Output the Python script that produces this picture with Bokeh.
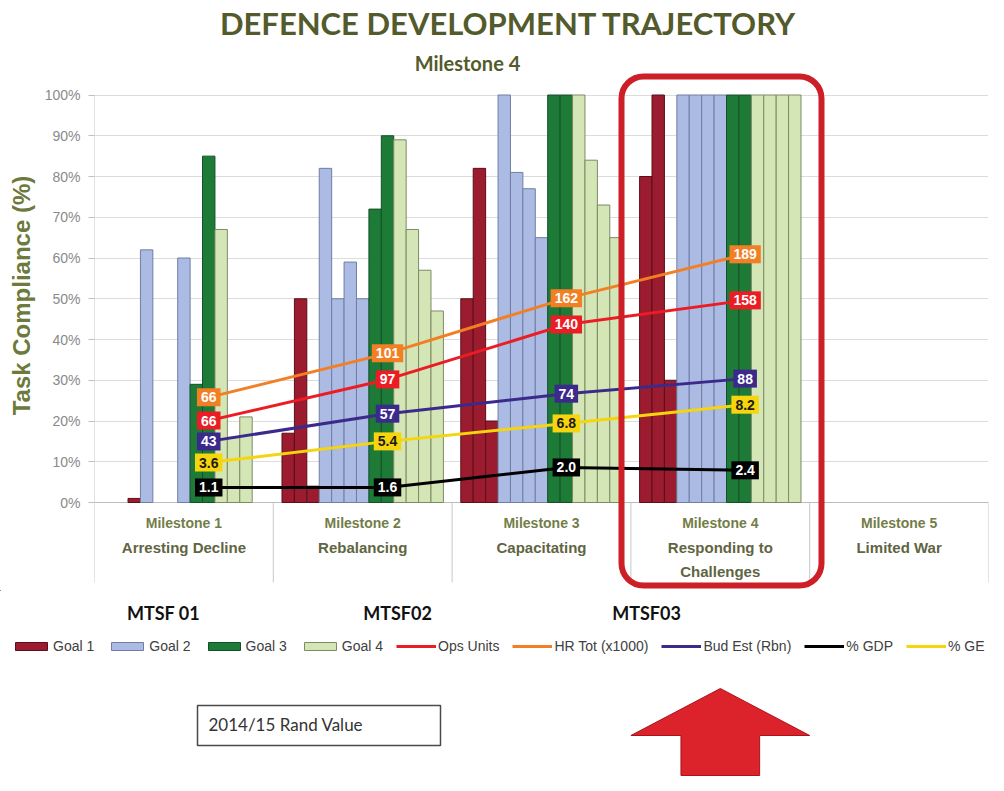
import numpy as np
from bokeh.plotting import figure
from bokeh.models import Range1d, FixedTicker, Legend, LegendItem
from bokeh.core.properties import value
from bokeh.embed import file_html
from bokeh.resources import INLINE

# ---------------- data ----------------
milestones = ["Milestone 1", "Milestone 2", "Milestone 3", "Milestone 4", "Milestone 5"]
phases = ["Arresting Decline", "Rebalancing", "Capacitating", "Responding to\nChallenges", "Limited War"]

# task compliance (%) of the task bars of each goal, per milestone
goal1 = [[0, 0, 1], [17, 50, 4], [50, 82, 20], [80, 100, 30], [0, 0, 0]]
goal2 = [[62, 0, 0, 60], [82, 50, 59, 50], [100, 81, 77, 65], [100, 100, 100, 100], [0, 0, 0, 0]]
goal3 = [[29, 85], [72, 90], [100, 100], [100, 100], [0, 0]]
goal4 = [[67, 16, 21, 0], [89, 67, 57, 47], [100, 84, 73, 65], [100, 100, 100, 100], [0, 0, 0, 0]]

# trajectory lines (Milestones 1-4): height on the chart (%) and the value shown
ops_units_pos = [20.1, 30.2, 43.7, 49.6]
ops_units_lbl = ["66", "97", "140", "158"]
hr_tot_pos = [25.8, 36.6, 50.1, 60.9]
hr_tot_lbl = ["66", "101", "162", "189"]
bud_est_pos = [15.0, 21.8, 26.7, 30.4]
bud_est_lbl = ["43", "57", "74", "88"]
gdp_pos = [3.7, 3.7, 8.6, 7.9]
gdp_lbl = ["1.1", "1.6", "2.0", "2.4"]
ge_pos = [9.8, 15.0, 19.4, 24.0]
ge_lbl = ["3.6", "5.4", "6.8", "8.2"]

y_ticks = [0, 10, 20, 30, 40, 50, 60, 70, 80, 90, 100]
y_tick_labels = ["0%", "10%", "20%", "30%", "40%", "50%", "60%", "70%", "80%", "90%", "100%"]
mtsf_labels = ["MTSF 01", "MTSF02", "MTSF03"]

# ---------------- layout constants (px) ----------------
W = 1000
H_TOP, H_BOT = 590, 198
H_ALL = H_TOP + H_BOT
LEFT = 94                      # y-axis position
CAT_PX = 178.8                 # width of one milestone
ZERO_PX = 502                  # 0% line
PX_PER_PCT = 4.075

def xd(px):   # page x -> milestone units
    return (px - LEFT) / CAT_PX

def yd(px):   # page y -> percent units
    return (ZERO_PX - px) / PX_PER_PCT

p = figure(width=W, height=H_TOP,
           x_range=Range1d(0, 5), y_range=Range1d(yd(H_TOP), yd(0)),
           output_backend="svg", toolbar_location=None, x_axis_type=None,
           min_border_left=LEFT, min_border_right=int(W - LEFT - 5 * CAT_PX),
           min_border_top=0, min_border_bottom=0)
p.outline_line_color = None
p.background_fill_color = "white"
p.border_fill_color = "white"

OLIVE = "#6c7a3c"
TITLE_C = "#535a2b"

ax = p.yaxis[0]
ax.ticker = FixedTicker(ticks=y_ticks)
ax.major_label_overrides = dict(zip(y_ticks, y_tick_labels))
ax.bounds = (0, 100)
ax.axis_line_color = None
ax.major_tick_out = 6
ax.major_tick_in = 0
ax.major_tick_line_color = "#bfbfbf"
ax.minor_tick_line_color = None
ax.major_label_standoff = 8
ax.major_label_text_font = "Liberation Sans"
ax.major_label_text_font_size = "14px"
ax.major_label_text_color = "#8a8a8a"
ax.axis_label = "Task Compliance (%)"
ax.axis_label_text_font = "Liberation Sans"
ax.axis_label_text_font_style = "bold"
ax.axis_label_text_font_size = "24px"
ax.axis_label_text_color = OLIVE
ax.axis_label_standoff = 7

p.ygrid.ticker = FixedTicker(ticks=y_ticks)
p.ygrid.grid_line_color = "#dcdcdc"
p.xgrid.grid_line_color = None

# axis frame lines and category dividers
bounds_x = [0, 1, 2, 3, 4, 5]
p.segment(x0=bounds_x, y0=[0] * 6, x1=bounds_x, y1=[yd(582)] * 6, line_color="#c8c8c8", line_width=1)
p.segment(x0=[0], y0=[100], x1=[0], y1=[0], line_color="#c8c8c8", line_width=1)
p.segment(x0=[0], y0=[0], x1=[5], y1=[0], line_color="#bdbdbd", line_width=1)

# ---------------- bars ----------------
N_SLOTS = 13
GAP = 1.4
slot_w = 1.0 / (N_SLOTS + GAP)

def slot_x(cat, slot):
    return cat + slot_w * (GAP / 2 + slot + 0.5)

goals = [
    ("Goal 1", goal1, 0, "#9a1c2e", "#5c0f19"),
    ("Goal 2", goal2, 3, "#abbbe3", "#6f7fa3"),
    ("Goal 3", goal3, 7, "#1e7a37", "#12502a"),
    ("Goal 4", goal4, 9, "#d4e6b6", "#7d8a66"),
]
for name, data, first_slot, fill, edge in goals:
    xs, tops = [], []
    for cat, vals in enumerate(data):
        for k, v in enumerate(vals):
            if v > 0:
                xs.append(slot_x(cat, first_slot + k))
                tops.append(v)
    p.vbar(x=xs, top=tops, bottom=0, width=slot_w, fill_color=fill, line_color=edge, line_width=1)

# ---------------- lines ----------------
line_x = [slot_x(c, 8) for c in range(4)]
series = [
    ("Ops Units", ops_units_pos, ops_units_lbl, "#ec1c24", "white"),
    ("HR Tot (x1000)", hr_tot_pos, hr_tot_lbl, "#f37f25", "white"),
    ("Bud Est (Rbn)", bud_est_pos, bud_est_lbl, "#3b2a8c", "white"),
    ("% GDP", gdp_pos, gdp_lbl, "#000000", "white"),
    ("% GE", ge_pos, ge_lbl, "#f6d40e", "#1a1a1a"),
]
for name, pos, lbl, col, tcol in series:
    p.line(line_x, pos, line_color=col, line_width=3)
for name, pos, lbl, col, tcol in series:
    p.text(x=line_x, y=pos, text=lbl, text_align="center", text_baseline="middle",
           text_font=value("Liberation Sans"), text_font_style="bold", text_font_size="14px",
           text_color=tcol, background_fill_color=col, padding=4)

# ---------------- category labels ----------------
cat_x = [c + 0.5 for c in range(5)]
p.text(x=cat_x, y=[yd(522)] * 5, text=milestones, text_align="center", text_baseline="middle",
       text_font=value("Liberation Sans"), text_font_style="bold", text_font_size="14px",
       text_color="#737d48")
p.text(x=cat_x, y=[yd(538)] * 5, text=phases, text_align="center", text_baseline="top",
       text_font=value("Liberation Sans"), text_font_style="bold", text_font_size="15px",
       text_color="#5f6542", text_line_height=1.45)

# ---------------- titles ----------------
p.text(x=[xd(508)], y=[yd(22)], text=["DEFENCE DEVELOPMENT TRAJECTORY"],
       text_align="center", text_baseline="middle", text_font=value("Lato"), text_font_style="bold",
       text_font_size="31px", text_color=TITLE_C)
p.text(x=[xd(467)], y=[yd(62)], text=["Milestone 4"],
       text_align="center", text_baseline="middle", text_font=value("Lato"), text_font_style="bold",
       text_font_size="20px", text_color=TITLE_C)

# ---------------- highlight box ----------------
p.quad(left=[xd(621)], right=[xd(821)], top=[yd(76)], bottom=[yd(585)], fill_color=None,
       line_color="#cc1f26", line_width=6, border_radius=22)

# ---------------- bottom strip: MTSF labels, legend, note box, arrow ----------------
q = figure(width=W, height=H_BOT,
           x_range=Range1d(xd(0), xd(W)), y_range=Range1d(yd(H_ALL), yd(H_TOP)),
           output_backend="svg", toolbar_location=None, x_axis_type=None, y_axis_type=None,
           min_border=0)
q.outline_line_color = None
q.background_fill_color = "white"
q.border_fill_color = "white"
q.grid.grid_line_color = None

q.text(x=[xd(163), xd(397), xd(646)], y=[yd(612)] * 3, text=mtsf_labels, text_align="center",
       text_baseline="middle", text_font=value("Lato"), text_font_style="bold",
       text_font_size="18px", text_color="#111111")

# legend proxies (kept outside the visible range)
legend_items = []
for name, data, first_slot, fill, edge in goals:
    r = q.vbar(x=[-50], top=[1], bottom=0, width=slot_w, fill_color=fill, line_color=edge, line_width=1)
    legend_items.append(LegendItem(label=name, renderers=[r]))
for name, pos, lbl, col, tcol in series:
    r = q.line(x=[-50, -49], y=[0, 0], line_color=col, line_width=3)
    legend_items.append(LegendItem(label=name, renderers=[r]))

legend = Legend(items=legend_items, orientation="horizontal", location=(11, H_ALL - 645 - 9),
                label_text_font="Liberation Sans", label_text_font_size="14px",
                label_text_color="#404040", glyph_width=40, glyph_height=10,
                spacing=13, label_standoff=2, padding=0, margin=0,
                border_line_color=None, background_fill_alpha=0)
q.add_layout(legend)

q.quad(left=[xd(197)], right=[xd(440)], top=[yd(705)], bottom=[yd(745)],
       fill_color="white", line_color="#4a4a4a", line_width=1.5)
q.text(x=[xd(208)], y=[yd(724)], text=["2014/15 Rand Value"],
       text_align="left", text_baseline="middle", text_font=value("Lato"), text_font_size="17px",
       text_color="#333333")

ac = 3.5
y_tip, y_head, y_base = yd(688), yd(735), yd(775)
q.patch(x=[ac, ac + 0.5, ac + 0.22, ac + 0.22, ac - 0.22, ac - 0.22, ac - 0.5],
        y=[y_tip, y_head, y_head, y_base, y_base, y_head, y_head],
        fill_color="#dc232b", line_color="#a8141c", line_width=1)

open("out.html", "w").write(file_html([p, q], INLINE))
